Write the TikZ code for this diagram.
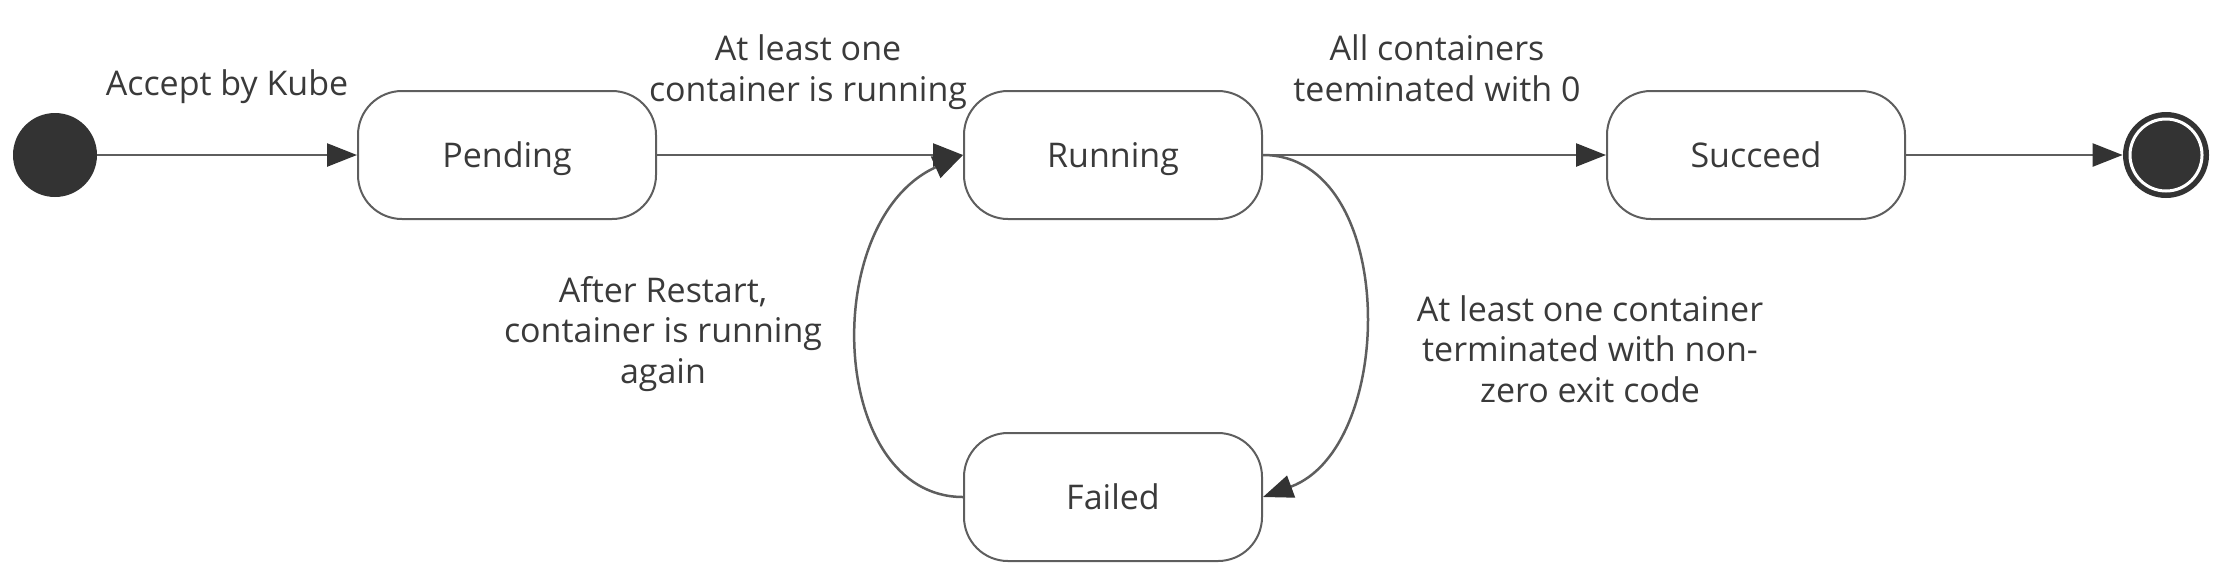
\documentclass[tikz,border=0pt]{standalone}
\usepackage{fontspec}
\setmainfont{Open Sans}
\usetikzlibrary{arrows.meta}
\definecolor{txt}{HTML}{3A3A3A}
\definecolor{ln}{HTML}{5E5E5E}
\definecolor{dark}{HTML}{333333}
\begin{document}
\begin{tikzpicture}[x=0.5pt,y=-0.5pt,
  state/.style={draw=ln, line width=1pt, rounded corners=22pt, minimum width=149pt, minimum height=64pt, inner sep=0pt, text depth=0pt, font=\fontsize{17pt}{20pt}\selectfont, text=txt},
  lbl/.style={align=center, font=\fontsize{17pt}{20.25pt}\selectfont, text=txt, inner sep=0pt},
  trans/.style={draw=ln, line width=1.25pt, -{Triangle[length=15pt,width=11.5pt,fill=dark,color=dark]}},
  startst/.style={circle, fill=dark, minimum size=42pt, inner sep=0pt},
  endst/.style={circle, fill=dark, minimum size=43pt, inner sep=0pt}
]
\useasboundingbox (0,0) rectangle (2226,580);
\node[startst] (init) at (55,155) {};
\node[state] (pend) at (507,155) {Pending};
\node[state] (run) at (1113,155) {Running};
\node[state] (succ) at (1756,155) {Succeed};
\node[state] (fail) at (1113,497) {Failed};
\node[endst] (fin) at (2166,155) {};
\draw[white, line width=1.5pt] (fin.center) circle[radius=18pt];

\node[lbl] (l1) at (227,87) {Accept by Kube};
\node[lbl] (l2) at (808,72) {At least one\\container is running};
\node[lbl] (l3) at (1437,68) {All containers\\teeminated with 0};
\node[lbl] (l4) at (663,334) {After Restart,\\container is running\\again};
\node[lbl] (l5) at (1590,349) {At least one container\\terminated with non-\\zero exit code};

\draw[trans] (init) -- (pend);
\draw[trans] (pend) -- (run);
\draw[trans] (run) -- (succ);
\draw[trans] (succ) -- (fin);
\draw[trans] (run.east) .. controls +(135,0) and +(135,-50) .. (fail.east);
\draw[trans] (fail.west) .. controls +(-135,0) and +(-145,65) .. (run.west);
\end{tikzpicture}
\end{document}
